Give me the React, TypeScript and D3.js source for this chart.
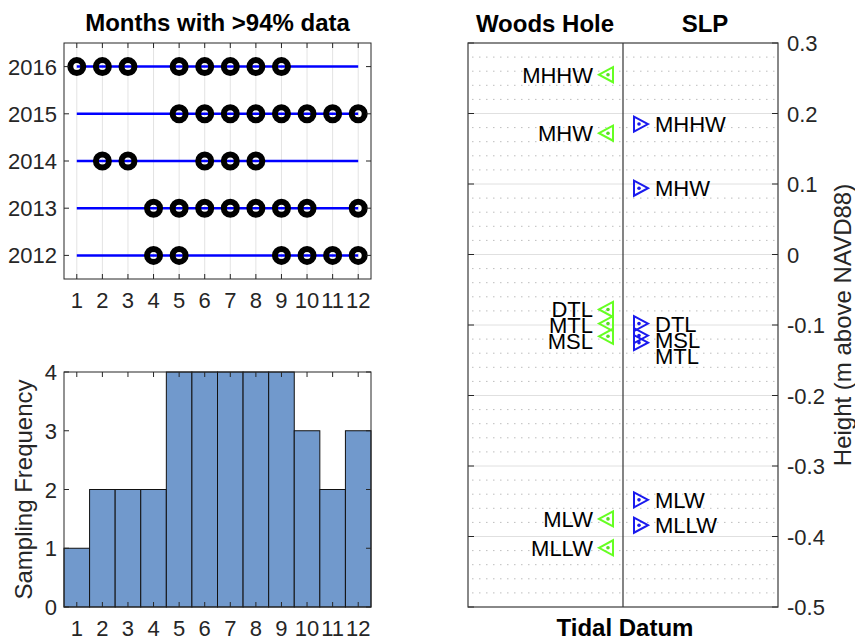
import React from "react";
import * as d3 from "d3";

const monthTicks = [1, 2, 3, 4, 5, 6, 7, 8, 9, 10, 11, 12];
const years = [2012, 2013, 2014, 2015, 2016];
const months2012 = [4, 5, 9, 10, 11, 12];
const months2013 = [4, 5, 6, 7, 8, 9, 10, 12];
const months2014 = [2, 3, 6, 7, 8];
const months2015 = [5, 6, 7, 8, 9, 10, 11, 12];
const months2016 = [1, 2, 3, 5, 6, 7, 8, 9];
const sampleFreq = [1, 2, 2, 2, 4, 4, 4, 4, 4, 3, 2, 3];
const freqTicks = [0, 1, 2, 3, 4];
const whNames = ["MHHW", "MHW", "DTL", "MTL", "MSL", "MLW", "MLLW"];
const whHeights = [0.255, 0.172, -0.078, -0.098, -0.116, -0.375, -0.416];
const slpNames = ["MHHW", "MHW", "DTL", "MSL", "MTL", "MLW", "MLLW"];
const slpHeights = [0.185, 0.094, -0.098, -0.115, -0.125, -0.348, -0.384];
const heightTicks = [-0.5, -0.4, -0.3, -0.2, -0.1, 0, 0.1, 0.2, 0.3];
const siteNames = ["Woods Hole", "SLP"];

const monthsByYear = [months2012, months2013, months2014, months2015, months2016];

const FONT = "'Liberation Sans', Arial, Helvetica, sans-serif";
const AX = "#262626";

function spread(ys: number[], gap: number): number[] {
  const idx = ys.map((_, i) => i).sort((a, b) => ys[a] - ys[b]);
  const out = ys.slice();
  let prev = -Infinity;
  idx.forEach((i) => {
    const y = Math.max(ys[i], prev + gap);
    out[i] = y;
    prev = y;
  });
  return out;
}

export default function App() {
  const tl = { x0: 64, x1: 371, y0: 43, y1: 279 };
  const xM = d3.scaleLinear().domain([0.5, 12.5]).range([tl.x0, tl.x1]);
  const yY = d3.scaleLinear().domain([2011.5, 2016.5]).range([tl.y1, tl.y0]);

  const bl = { x0: 64, x1: 371, y0: 372, y1: 607 };
  const xB = d3.scaleLinear().domain([0.5, 12.5]).range([bl.x0, bl.x1]);
  const yB = d3.scaleLinear().domain([0, 4]).range([bl.y1, bl.y0]);

  const rp = { x0: 468, x1: 778, y0: 43, y1: 607 };
  const xR = d3.scaleLinear().domain([0, 2]).range([rp.x0, rp.x1]);
  const yR = d3.scaleLinear().domain([-0.5, 0.3]).range([rp.y1, rp.y0]);
  const minorTicks = d3.range(-0.48, 0.3, 0.02).filter((v) => Math.abs(Math.round(v * 10) - v * 10) > 0.05);
  const majorGrid = heightTicks.filter((v) => v > -0.5 && v < 0.3);

  const whX = 608;
  const slpX = 639;
  const whPy = whHeights.map((v) => yR(v));
  const slpPy = slpHeights.map((v) => yR(v));
  const whLy = spread(whPy, 16);
  const slpLy = spread(slpPy, 16);

  const tick = 5;

  return (
    <svg
      width={855}
      height={640}
      style={{ position: "absolute", left: 0, top: 0, background: "#fff" }}
      fontFamily={FONT}
    >
      <rect x={0} y={0} width={855} height={640} fill="#fff" />

      {/* ===== Top-left: months with data ===== */}
      <text x={(tl.x0 + tl.x1) / 2} y={31} textAnchor="middle" fontSize={24} fontWeight="bold" fill="#000">
        Months with &gt;94% data
      </text>
      {monthTicks.map((m) => (
        <line key={"g" + m} x1={xM(m)} x2={xM(m)} y1={tl.y0} y2={tl.y1} stroke="#e3e3e3" strokeWidth={1} />
      ))}
      {years.map((yr, i) => (
        <g key={"yr" + yr}>
          <line x1={xM(1)} x2={xM(12)} y1={yY(yr)} y2={yY(yr)} stroke="#0000ff" strokeWidth={2.5} />
          {monthsByYear[i].map((m) => (
            <circle key={m} cx={xM(m)} cy={yY(yr)} r={6.5} fill="none" stroke="#000" strokeWidth={6} />
          ))}
        </g>
      ))}
      {monthTicks.map((m) => (
        <g key={"tt" + m}>
          <line x1={xM(m)} x2={xM(m)} y1={tl.y1} y2={tl.y1 - tick} stroke={AX} />
          <line x1={xM(m)} x2={xM(m)} y1={tl.y0} y2={tl.y0 + tick} stroke={AX} />
          <text x={xM(m)} y={308} textAnchor="middle" fontSize={22} fill="#262626">
            {m}
          </text>
        </g>
      ))}
      {years.map((yr) => (
        <g key={"yt" + yr}>
          <line x1={tl.x0} x2={tl.x0 + tick} y1={yY(yr)} y2={yY(yr)} stroke={AX} />
          <line x1={tl.x1} x2={tl.x1 - tick} y1={yY(yr)} y2={yY(yr)} stroke={AX} />
          <text x={57} y={yY(yr) + 8} textAnchor="end" fontSize={22} fill="#262626">
            {yr}
          </text>
        </g>
      ))}
      <rect x={tl.x0} y={tl.y0} width={tl.x1 - tl.x0} height={tl.y1 - tl.y0} fill="none" stroke={AX} strokeWidth={1} />

      {/* ===== Bottom-left: histogram ===== */}
      {sampleFreq.map((v, i) => (
        <rect
          key={"b" + i}
          x={xB(monthTicks[i] - 0.5)}
          y={yB(v)}
          width={xB(monthTicks[i] + 0.5) - xB(monthTicks[i] - 0.5)}
          height={yB(0) - yB(v)}
          fill="#7199cc"
          stroke="#111"
          strokeWidth={1}
        />
      ))}
      {monthTicks.map((m) => (
        <g key={"bt" + m}>
          <line x1={xB(m)} x2={xB(m)} y1={bl.y1} y2={bl.y1 - tick} stroke={AX} />
          <line x1={xB(m)} x2={xB(m)} y1={bl.y0} y2={bl.y0 + tick} stroke={AX} />
          <text x={xB(m)} y={636} textAnchor="middle" fontSize={22} fill="#262626">
            {m}
          </text>
        </g>
      ))}
      {freqTicks.map((f) => (
        <g key={"ft" + f}>
          <line x1={bl.x0} x2={bl.x0 + tick} y1={yB(f)} y2={yB(f)} stroke={AX} />
          <line x1={bl.x1} x2={bl.x1 - tick} y1={yB(f)} y2={yB(f)} stroke={AX} />
          <text x={57} y={yB(f) + 8} textAnchor="end" fontSize={22} fill="#262626">
            {f}
          </text>
        </g>
      ))}
      <rect x={bl.x0} y={bl.y0} width={bl.x1 - bl.x0} height={bl.y1 - bl.y0} fill="none" stroke={AX} strokeWidth={1} />
      <text
        transform={`translate(23, ${(bl.y0 + bl.y1) / 2}) rotate(-90)`}
        textAnchor="middle"
        dominantBaseline="central"
        fontSize={24}
        fill="#262626"
      >
        Sampling Frequency
      </text>

      {/* ===== Right: tidal datums ===== */}
      {minorTicks.map((v, i) => (
        <line
          key={"mn" + i}
          x1={rp.x0 + 4}
          x2={rp.x1 - 2}
          y1={yR(v)}
          y2={yR(v)}
          stroke="#bdbdbd"
          strokeWidth={1}
          strokeDasharray="1.5 5.5"
        />
      ))}
      {majorGrid.map((v) => (
        <line key={"mj" + v} x1={rp.x0} x2={rp.x1} y1={yR(v)} y2={yR(v)} stroke="#e0e0e0" strokeWidth={1} />
      ))}
      <line x1={xR(1)} x2={xR(1)} y1={rp.y0} y2={rp.y1} stroke="#333" strokeWidth={1.2} />
      {heightTicks.map((v) => (
        <g key={"ht" + v}>
          <line x1={rp.x0} x2={rp.x0 + 6} y1={yR(v)} y2={yR(v)} stroke={AX} />
          <line x1={rp.x1} x2={rp.x1 - 6} y1={yR(v)} y2={yR(v)} stroke={AX} />
          <text x={787} y={yR(v) + 8} fontSize={22} fill="#262626">
            {v === 0 ? "0" : v.toFixed(1)}
          </text>
        </g>
      ))}
      <rect x={rp.x0} y={rp.y0} width={rp.x1 - rp.x0} height={rp.y1 - rp.y0} fill="none" stroke="#3a3a3a" strokeWidth={1.2} />

      {whNames.map((n, i) => (
        <g key={"wh" + i}>
          <path
            d={`M${whX - 9},${whPy[i]} L${whX + 5},${whPy[i] - 7.5} L${whX + 5},${whPy[i] + 7.5} Z`}
            fill="none"
            stroke="#66ff22"
            strokeWidth={2}
          />
          <circle cx={whX} cy={whPy[i]} r={1.8} fill="#55dd22" />
          <text x={593} y={whLy[i] + 8} textAnchor="end" fontSize={22} fill="#000">
            {n}
          </text>
        </g>
      ))}
      {slpNames.map((n, i) => (
        <g key={"slp" + i}>
          <path
            d={`M${slpX + 9},${slpPy[i]} L${slpX - 5},${slpPy[i] - 7.5} L${slpX - 5},${slpPy[i] + 7.5} Z`}
            fill="none"
            stroke="#1a1aee"
            strokeWidth={2}
          />
          <circle cx={slpX} cy={slpPy[i]} r={1.8} fill="#1a1aee" />
          <text x={655} y={slpLy[i] + 8} fontSize={22} fill="#000">
            {n}
          </text>
        </g>
      ))}

      <text x={545} y={32} textAnchor="middle" fontSize={24} fontWeight="bold" fill="#000">
        {siteNames[0]}
      </text>
      <text x={705} y={32} textAnchor="middle" fontSize={24} fontWeight="bold" fill="#000">
        {siteNames[1]}
      </text>
      <text x={625} y={636} textAnchor="middle" fontSize={24} fontWeight="bold" fill="#000">
        Tidal Datum
      </text>
      <text
        transform={`translate(842, ${(rp.y0 + rp.y1) / 2}) rotate(-90)`}
        textAnchor="middle"
        dominantBaseline="central"
        fontSize={24}
        fill="#262626"
      >
        Height (m above NAVD88)
      </text>
    </svg>
  );
}
